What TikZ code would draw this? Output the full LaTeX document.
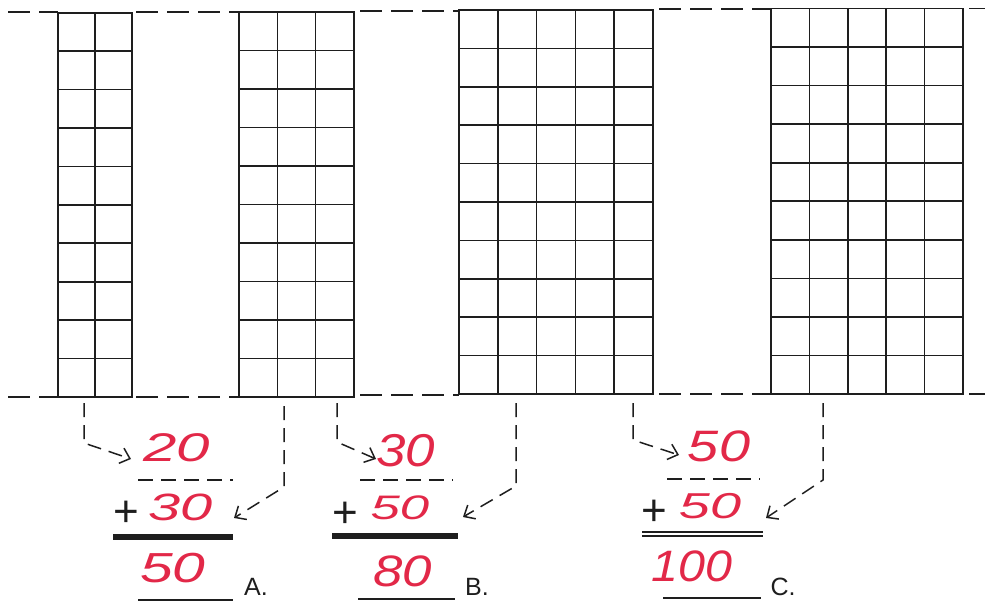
\documentclass[tikz,border=0pt]{standalone}
\usepackage{fontspec}
\usetikzlibrary{arrows.meta}
\newfontfamily\hand{Liberation Sans}
\newfontfamily\labfont{Liberation Sans}
\definecolor{handred}{RGB}{226,40,72}
\definecolor{ink}{RGB}{30,30,30}
\newcommand\gridblock[5]{%
  \draw[gridline] (#1,#3) rectangle (#2,#4);
  \foreach \i in {1,...,9} \draw[gridline] (#1,{#3+(#4-#3)*\i/10}) -- (#2,{#3+(#4-#3)*\i/10});
  \pgfmathtruncatemacro\ncm{#5-1}
  \foreach \j in {1,...,\ncm} \draw[gridline] ({#1+(#2-#1)*\j/#5},#3) -- ({#1+(#2-#1)*\j/#5},#4);
}
\tikzset{
  gridline/.style={line width=1.6pt, draw=ink},
  bandline/.style={line width=1.7pt, draw=ink, dash pattern=on 22pt off 9pt},
  conn/.style={line width=1.5pt, draw=ink, dash pattern=on 14pt off 8pt,
     -{Straight Barb[length=9pt,width=16pt,line width=1.5pt]}},
  num/.style={text=handred, font=\hand\itshape\fontsize{#1}{#1}\selectfont, inner sep=0pt},
  num/.default=40,
  plussign/.style={text=ink, font=\labfont\fontsize{44}{44}\selectfont, inner sep=0pt},
  letter/.style={text=ink, font=\labfont\fontsize{25}{25}\selectfont, inner sep=0pt},
  sepdash/.style={line width=1.8pt, draw=ink, dash pattern=on 15pt off 8pt},
  sumbar/.style={line width=5.5pt, draw=ink},
  underline/.style={line width=2.2pt, draw=ink},
}
\begin{document}
\begin{tikzpicture}[x=1pt,y=-1pt]
\useasboundingbox (0,0) rectangle (985,605);
% grids
\gridblock{58}{132}{12.7}{397}{2}
\gridblock{239}{354}{12}{397}{3}
\gridblock{459}{653}{10}{394}{5}
\gridblock{771}{963}{8.5}{394}{5}
% top band line
\draw[bandline] (8,12) -- (58,12);
\draw[bandline] (136,12) -- (239,12);
\draw[bandline] (360,11) -- (459,11);
\draw[bandline] (659,9) -- (771,9);
\draw[bandline] (969,8.5) -- (985,8.5);
% bottom band line
\draw[bandline] (8,397) -- (58,397);
\draw[bandline] (136,397) -- (239,397);
\draw[bandline] (360,395) -- (459,395);
\draw[bandline] (659,394) -- (771,394);
\draw[bandline] (969,394) -- (985,394);

% ---------- A ----------
\node[num=40, xscale=1.5] (a1) at (177,448) {20};
\node[plussign] (ap) at (126,514) {+};
\node[num=38, xscale=1.52] (a2) at (181,507) {30};
\node[num=42, xscale=1.4] (a3) at (173,568) {50};
\node[letter] (al) at (256,587) {A.};
\draw[sepdash] (138,480) -- (233,480);
\draw[sumbar] (113,537) -- (233,537);
\draw[underline] (138,600) -- (233,600);
\coordinate (sA1) at (84,403); \coordinate (kA1) at (84,443); \coordinate (tA1) at (131,459);
\coordinate (sA2) at (284,406); \coordinate (kA2) at (284,487); \coordinate (tA2) at (234,518);
\draw[conn] (sA1) -- (kA1) -- (tA1);
\draw[conn] (sA2) -- (kA2) -- (tA2);

% ---------- B ----------
\node[num=46, xscale=1.15] (b1) at (406,451) {30};
\node[plussign] (bp) at (345,515) {+};
\node[num=34, xscale=1.55] (b2) at (400,508) {50};
\node[num=44, xscale=1.2] (b3) at (403,571) {80};
\node[letter] (bl) at (477,587) {B.};
\draw[sepdash] (360,480) -- (453,480);
\draw[sumbar] (332,536) -- (458,536);
\draw[underline] (358,599) -- (455,599);
\coordinate (sB1) at (337,403); \coordinate (kB1) at (337,442); \coordinate (tB1) at (376,459);
\coordinate (sB2) at (516,403); \coordinate (kB2) at (516,486); \coordinate (tB2) at (463,517);
\draw[conn] (sB1) -- (kB1) -- (tB1);
\draw[conn] (sB2) -- (kB2) -- (tB2);

% ---------- C ----------
\node[num=44, xscale=1.27] (c1) at (719,446) {50};
\node[plussign] (cp) at (654,513) {+};
\node[num=36, xscale=1.55] (c2) at (710,506) {50};
\node[num=44, xscale=1.1] (c3) at (692,566) {100};
\node[letter] (cl) at (783,587) {C.};
\draw[sepdash] (667,479) -- (760,479);
\draw[line width=2pt, draw=ink, double=white, double distance=1.2pt] (642,534) -- (763,534);
\draw[underline] (663,598) -- (761,598);
\coordinate (sC1) at (633,403); \coordinate (kC1) at (633,440); \coordinate (tC1) at (679,455);
\coordinate (sC2) at (823,403); \coordinate (kC2) at (823,480); \coordinate (tC2) at (766,518);
\draw[conn] (sC1) -- (kC1) -- (tC1);
\draw[conn] (sC2) -- (kC2) -- (tC2);
\end{tikzpicture}
\end{document}
